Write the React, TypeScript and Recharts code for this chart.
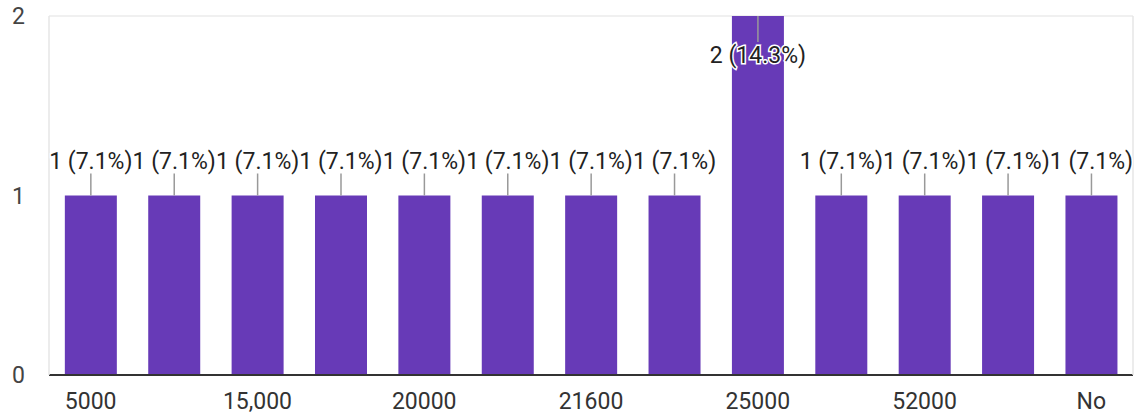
import * as React from 'react';
import { BarChart, Bar, XAxis, YAxis, CartesianGrid, LabelList } from 'recharts';

// answers (only every other one is labelled on the axis)
const answers = ['5000', '10000', '15,000', '18000', '20000', '20,000', '21600', '22000', '25000', '30000', '52000', '60000', 'No'];
const counts = [1, 1, 1, 1, 1, 1, 1, 1, 2, 1, 1, 1, 1];
const yTicks = [0, 0.5, 1, 1.5, 2];

const total = counts.reduce((a, b) => a + b, 0);
const data = answers.map((answer, i) => ({ answer, count: counts[i] }));

const FONT = 'Roboto, Arial, sans-serif';
const PURPLE = '#673ab7';

const CountLabel: React.FC<any> = ({ x, y, width, value }) => {
    const cx = x + width / 2;
    const pct = ((value / total) * 100).toFixed(1);
    // not enough room above the bar -> draw the callout downward inside it
    const flip = y < 60;
    const lineEnd = flip ? y + 26 : y - 22;
    const textY = flip ? y + 47 : y - 27;
    return (
        <g>
            <line x1={cx} y1={y} x2={cx} y2={lineEnd} stroke="#999" strokeWidth={1.5} />
            <text
                x={cx}
                y={textY}
                textAnchor="middle"
                fontFamily={FONT}
                fontSize={23}
                fill="#222"
                stroke="#fff"
                strokeWidth={3}
                paintOrder="stroke"
            >
                {`${value} (${pct}%)`}
            </text>
        </g>
    );
};

const YTick: React.FC<any> = ({ x, y, payload }) => {
    if (!Number.isInteger(payload.value)) return null;
    return (
        <text x={x - 2} y={y} dy="0.36em" textAnchor="end" fontFamily={FONT} fontSize={23} fill="#444">
            {payload.value}
        </text>
    );
};

const App: React.FC = () => {
    return (
        <div style={{ position: 'absolute', left: 0, top: 0, width: 1144, height: 420, background: '#fff' }}>
            <BarChart
                width={1144}
                height={420}
                data={data}
                margin={{ top: 16, right: 0, left: 0, bottom: 0 }}
                barCategoryGap="19%"
            >
                <CartesianGrid vertical={false} stroke="#ebebeb" strokeWidth={1.5} />
                <XAxis
                    dataKey="answer"
                    interval={1}
                    tickLine={false}
                    tickSize={0}
                    tickMargin={18}
                    height={45}
                    axisLine={{ stroke: '#333', strokeWidth: 2 }}
                    tick={{ fontFamily: FONT, fontSize: 23, fill: '#333' }}
                />
                <YAxis
                    yAxisId="left"
                    domain={[0, 2]}
                    ticks={yTicks}
                    width={49}
                    tickLine={false}
                    tickSize={0}
                    tickMargin={22}
                    axisLine={{ stroke: '#e6e6e6', strokeWidth: 1.5 }}
                    tick={<YTick />}
                />
                <YAxis
                    yAxisId="right"
                    orientation="right"
                    domain={[0, 2]}
                    width={11}
                    tick={false}
                    tickLine={false}
                    axisLine={{ stroke: '#e6e6e6', strokeWidth: 1.5 }}
                />
                <Bar yAxisId="left" dataKey="count" fill={PURPLE} isAnimationActive={false}>
                    <LabelList dataKey="count" content={<CountLabel />} />
                </Bar>
            </BarChart>
        </div>
    );
};

export default App;
